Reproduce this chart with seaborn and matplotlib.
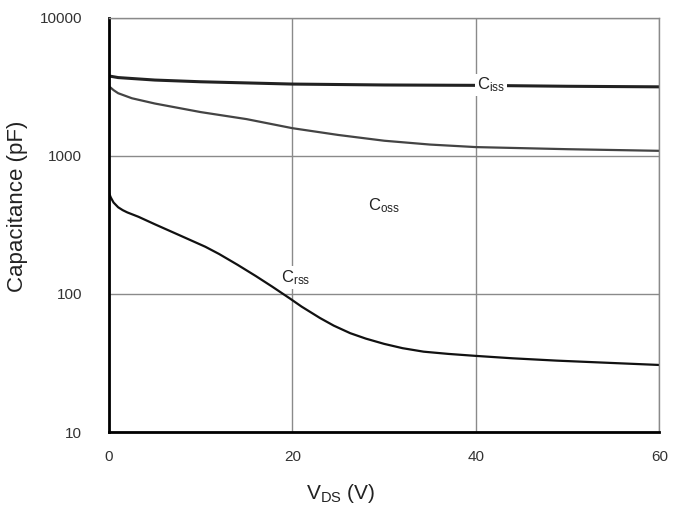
import matplotlib
matplotlib.use("Agg")
import matplotlib.pyplot as plt
import seaborn as sns

# valores
vds_ciss = [0, 1, 5, 10, 20, 30, 40, 50, 60]
ciss = [3800, 3700, 3550, 3450, 3320, 3270, 3250, 3200, 3170]

vds_coss = [0, 0.5, 1, 2.5, 5, 10, 15, 20, 25, 30, 35, 40, 50, 60]
coss = [3200, 3000, 2850, 2620, 2400, 2080, 1850, 1590, 1420, 1290, 1210, 1160, 1120, 1090]

vds_crss = [0, 0.2, 0.5, 1, 1.5, 2, 3.2, 5, 7.5, 10.5, 12, 14, 16, 17.8, 19.7, 21, 23,
            24.5, 26.3, 28, 30, 32, 34.3, 37, 40, 44, 48.8, 55, 60]
crss = [540, 500, 460, 425, 405, 390, 363, 320, 270, 220, 195, 163, 135, 113, 93, 81, 67,
        59, 52, 47.5, 43.5, 40.5, 38.2, 36.8, 35.6, 34.2, 32.9, 31.6, 30.6]

etiquetas = ["iss", "oss", "rss"]
pos_etiquetas = [(41.6, 3270), (30.0, 435), (20.3, 131)]

sns.set_style("white")
plt.rcParams["font.family"] = ["Liberation Sans", "DejaVu Sans"]
plt.rcParams["mathtext.fontset"] = "custom"
plt.rcParams["mathtext.rm"] = "Liberation Sans"
plt.rcParams["mathtext.it"] = "Liberation Sans"

fig = plt.figure(figsize=(6.88, 5.08), dpi=100)
ax = fig.add_axes([0.1584, 0.1496, 0.8, 0.815])

sns.lineplot(x=vds_ciss, y=ciss, ax=ax, color="#222222", lw=2.2)
sns.lineplot(x=vds_coss, y=coss, ax=ax, color="#444444", lw=1.6)
sns.lineplot(x=vds_crss, y=crss, ax=ax, color="#111111", lw=1.6)

ax.set_yscale("log")
ax.set_xlim(0, 60)
ax.set_ylim(10, 10000)
ax.set_xticks([0, 20, 40, 60])
ax.set_yticks([10, 100, 1000, 10000])
ax.set_yticklabels(["10", "100", "1000", "10000"])
ax.minorticks_off()
ax.grid(True, color="#8a8a8a", lw=1)
ax.tick_params(length=0, labelsize=11, colors="#333333")
ax.tick_params(axis="y", pad=19.5)
ax.tick_params(axis="x", pad=13)

for lado in ["left", "bottom"]:
    ax.spines[lado].set_color("black")
    ax.spines[lado].set_linewidth(2)
for lado in ["top", "right"]:
    ax.spines[lado].set_color("#8a8a8a")
    ax.spines[lado].set_linewidth(1)

for sub, (x, y) in zip(etiquetas, pos_etiquetas):
    ax.text(x, y, r"C$_{\rm " + sub + "}$", ha="center", va="center",
            fontsize=12, color="#222222",
            bbox=dict(facecolor="white", edgecolor="none", pad=1.5))

ax.set_xlabel(r"V$_{\rm DS}$ (V)", fontsize=15, color="#222222")
ax.set_ylabel("Capacitance (pF)", fontsize=16, color="#222222")
ax.xaxis.set_label_coords(0.42, -0.12)
ax.yaxis.set_label_coords(-0.147, 0.546)

fig.savefig("out.png", dpi=100)
